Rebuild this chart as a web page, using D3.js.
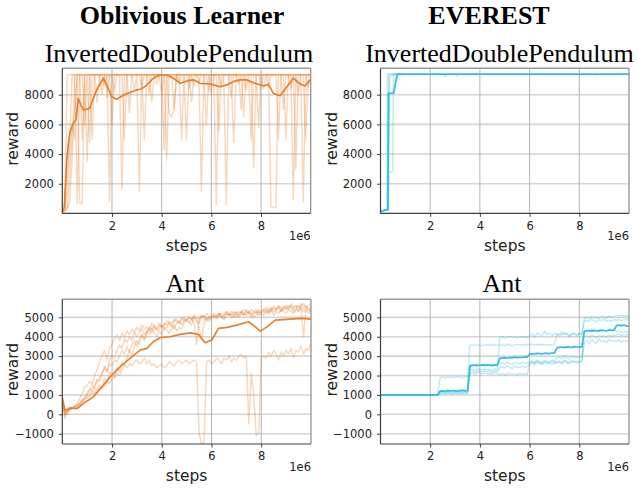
<!DOCTYPE html>
<html><head><meta charset="utf-8">
<script src="https://cdn.jsdelivr.net/npm/d3@7"></script>
<style>body{margin:0;background:#fff}svg{display:block}</style>
</head><body>
<svg id="c" width="637" height="489"></svg>
<script>
// ---------- DATA ----------
const columnTitles = ["Oblivious Learner", "EVEREST"];
const envTitles = ["InvertedDoublePendulum", "Ant"];
const xTickValues = [2, 4, 6, 8];            // in units of 1e6 steps
const idpYTicks = [2000, 4000, 6000, 8000];
const antYTicks = [-1000, 0, 1000, 2000, 3000, 4000, 5000];
const stepGrid = d3.range(101).map(i => i / 10); // sample steps, millions

// Oblivious Learner / InvertedDoublePendulum runs (on stepGrid)
const oblIdpRun1 = [100,300,9350,9360,9350,9340,9350,9360,9350,9350,
 9350,9360,5000,9350,9350,9340,9350,8600,9350,9350,
 9360,9350,9350,9350,9340,5000,9350,9350,9360,9350,
 9350,9350,8500,9350,9350,9360,9350,9350,9350,9340,
 8000,9350,9350,9360,9350,9350,9350,8800,9350,9350,
 5000,9350,9350,9360,9350,9350,9350,9340,9350,8200,
 9350,9350,9360,5500,9350,9350,9350,9350,9340,9350,
 9350,8700,9350,6500,9350,9360,9350,9350,9350,9350,
 9350,9340,9350,9350,400,420,400,9350,9350,9360,
 9350,9350,8400,9350,9350,9350,9340,9350,9350,9350,9350];
const oblIdpRun2 = [100,500,3000,5200,9350,9350,700,9300,9350,9350,
 9350,9350,9340,9350,7500,9350,9350,9360,9350,9350,
 6000,9350,9350,9350,9350,9340,9350,9350,9350,8300,
 9350,1500,9350,9350,9360,9350,9350,9350,9350,9350,
 9350,9340,9350,6800,6500,7000,9350,9350,9350,9360,
 9350,9350,9350,8600,9350,9350,9350,9350,6000,9350,
 9350,9340,9350,9350,9350,9350,600,9350,9350,9350,
 9360,9350,9350,9350,8300,9350,5000,9350,9350,9350,
 9350,9350,9340,9350,9350,9350,9350,5000,9350,9350,
 9350,9350,9350,9360,3000,9350,9350,9350,9350,8500,9350];
const oblIdpRun3 = [100,200,1500,4500,6000,5000,9350,700,650,9350,
 9350,9350,9350,9360,9350,9350,8000,9350,9350,800,
 9350,9350,9350,9340,9350,9350,9350,9350,9350,9350,
 9360,9350,9350,5000,9350,9350,9350,9340,8700,9350,
 9350,9350,9350,9350,9350,7000,9350,9360,9350,9350,
 9350,8400,9350,9350,9350,9340,1500,9350,9350,9350,
 9350,9350,9350,9350,8500,9350,9350,9360,7800,9350,
 9350,9350,9350,9350,9350,9340,9350,3100,9350,9350,
 9350,8400,9350,9350,9350,9360,9350,9350,9350,7000,
 9350,9350,9350,9350,9350,8000,9350,9350,9340,9350,9350];
const oblIdpRun4 = [100,200,400,2500,5500,7000,9350,9350,5000,9350,
 3500,9350,9350,9350,9350,9350,9360,9350,9350,9350,
 9350,8200,9350,9350,9350,9350,9350,6800,9350,9350,
 9350,9350,9340,9350,9350,8000,9350,9350,9350,9350,
 9350,4300,9350,9350,9350,9360,9350,9350,5000,9350,
 9350,9350,9350,9350,9350,8800,9350,9350,9350,9350,
 8000,9350,9350,9340,9350,9350,9350,9350,9350,4800,
 9350,9350,9350,9350,9360,9350,9350,9350,9350,5800,
 9350,9350,9350,8500,9350,9350,9350,9350,9350,9350,
 5000,9350,9350,9350,9350,9350,9350,800,9350,9350,9350];
const oblIdpRun5 = [100,150,300,800,3800,9350,9350,9350,9350,6000,
 9350,4800,9350,9350,9350,9350,9350,9350,7800,9350,
 9350,9350,9350,9350,1600,9350,9350,9350,9350,9350,
 9350,9350,9350,9350,9350,9350,7500,9350,9350,9350,
 9350,9350,3600,9350,9350,9350,9350,9350,9350,9350,
 9350,9350,7500,9350,9350,9350,9350,9350,9350,9350,
 9350,9350,600,9350,9350,9350,9350,9350,9350,9350,
 9350,9350,7000,9350,9350,9350,9350,9350,9350,9350,
 8300,9350,9350,9350,9350,9350,9350,9350,9350,9350,
 9350,9350,9350,900,9350,9350,9350,9350,5000,9350,9350];
const oblIdpMeanSteps = [0,0.08,0.18,0.25,0.31,0.44,0.55,0.64,0.75,0.85,1.1,1.38,1.65,1.75,1.99,2.19,2.46,2.72,2.99,3.2,3.4,3.66,3.93,4.2,4.47,4.74,5.07,5.3,5.54,5.94,6.35,6.62,6.88,7.15,7.42,7.69,8.1,8.3,8.5,8.77,9.04,9.3,9.57,9.77,10];
const oblIdpMean = [100,400,3600,4800,5500,6070,6300,7760,7300,6970,7080,8320,9110,8800,7870,7690,7970,8150,8320,8400,8650,9110,9330,9330,9110,8770,8950,9000,8770,8730,8540,8660,8880,9000,9000,8810,8590,8700,8090,7930,8540,9110,8730,8590,9040];

// EVEREST / InvertedDoublePendulum (irregular samples)
const evIdpRun1Steps = [0,0.25,0.28,2.5,2.6,2.7,10];
const evIdpRun1 = [130,250,9380,9380,9200,9380,9380];
const evIdpRun2Steps = [0,0.3,0.33,0.49,0.52,10];
const evIdpRun2 = [130,260,2800,2800,9380,9380];
const evIdpRun3Steps = [0,0.3,0.33,0.55,0.62,10];
const evIdpRun3 = [150,250,8100,8100,9380,9380];
const evIdpRun4Steps = [0,0.3,0.34,3.0,3.1,3.2,10];
const evIdpRun4 = [100,280,9380,9380,9250,9380,9380];
const evIdpRun5Steps = [0,0.32,0.36,0.5,0.55,8.6,8.7,8.8,10];
const evIdpRun5 = [140,260,9200,9300,9380,9380,9300,9380,9380];
const evIdpMeanSteps = [0,0.1,0.25,0.3,0.32,0.52,0.68,1,2,3,4,5,6,7,8,9,10];
const evIdpMean = [130,180,250,260,8100,8100,9370,9380,9380,9380,9380,9380,9380,9380,9380,9380,9380];

// Oblivious Learner / Ant runs (on stepGrid)
const oblAntRun1 = [800,0,150,300,350,450,550,800,1100,1400,1500,
 1700,1550,2000,2300,2700,3000,3300,2800,3400,3600,
 3900,4100,3800,4200,4000,4300,4100,4400,4200,4500,
 4300,4600,4400,4500,4300,4700,4500,4400,4600,4500,
 4700,4600,4800,4700,4900,4800,4700,5000,4800,4900,
 5000,4900,5100,5000,4900,5100,5000,5200,5000,5100,
 5200,5100,5000,5200,5100,5300,5200,5100,5300,5200,
 5300,5200,5400,5300,5200,5400,5300,5200,5400,5300,
 5400,5500,5300,5400,5500,5400,5600,5500,5400,5600,
 5500,5600,5400,5600,5500,5700,5500,5600,5400,5500];
const oblAntRun2 = [700,-200,100,250,300,350,450,500,600,800,1000,
 1200,1500,1300,1700,1900,2100,2400,2200,2600,2500,
 2800,2700,3000,3300,3100,3500,3200,3600,3800,3500,
 3900,4100,3800,4200,4400,4200,4500,4300,4400,4600,
 4400,4500,4700,4600,4400,4700,4800,4600,4900,4800,
 4700,4900,5000,4800,4500,3800,4700,5000,4900,5100,
 5000,5100,5200,5000,5100,5300,5100,5200,5000,5200,
 5100,5300,5200,5100,5300,5200,5000,5100,5300,5200,
 5300,5400,5200,5500,5300,5400,5600,5300,5500,5400,
 5600,5500,5300,5400,5600,5500,4000,5500,5400,5300];
const oblAntRun3 = [600,100,200,250,300,400,450,600,750,800,900,
 1000,1200,1100,1300,1500,1400,1900,1600,2200,2000,
 1900,2400,2200,2700,2500,2900,3300,3000,3500,3800,
 3600,4100,3900,4300,4100,4400,4200,4000,4300,4100,
 4500,4300,4200,4400,4600,4300,4500,4400,4700,4900,
 4800,4600,5000,4900,4700,5000,5100,4900,4800,5000,
 5100,4900,5200,5000,4900,5100,5200,5000,5100,5300,
 5000,5200,5100,5300,5200,5000,5200,5300,5100,5200,
 5100,5300,5200,5400,5100,5300,5200,5400,5300,5200,
 5400,5300,5200,5400,5300,5500,5300,5400,5200,5400];
const oblAntRun4 = [900,-100,200,350,300,400,500,550,700,650,800,
 900,1100,1000,1200,1400,1300,1500,1700,1600,1800,
 1900,2100,2000,2300,2500,2400,2600,2500,2700,2800,
 2600,2700,2900,2600,2800,2500,2600,2400,2500,2600,
 2400,2500,2700,2600,2500,2700,2800,2600,2700,2800,
 2600,2700,2800,2700,-1000,-1500,-1450,2700,2800,2600,
 2700,2900,2800,2600,2900,2800,3000,2700,2900,2800,
 3000,3100,2900,3000,-500,2100,1000,-1100,-950,2900,
 3000,2900,3200,3000,3300,3100,2800,3200,3000,3300,
 3100,3400,2900,3300,3200,3500,3100,3400,3300,3700];
const oblAntRun5 = [500,100,0,200,300,300,400,500,700,900,1100,
 1300,1200,1500,1800,1700,2100,2500,2200,2800,3100,
 2900,3300,3600,3400,3900,3700,4000,3800,4200,4000,
 4200,4400,4100,4300,4500,4400,4600,4400,4700,4500,
 4600,4800,4700,4500,4800,4900,4700,4900,5000,4800,
 5000,4900,4700,3600,4900,5100,5000,4800,5000,4900,
 5100,5000,5200,5100,4900,5200,5100,5300,5200,5000,
 5200,5300,5100,5400,5300,5100,5300,5400,5200,5300,
 5400,5200,5500,5300,5600,5400,5500,5300,5600,5500,
 5400,5700,5500,5600,5300,5600,5700,5500,5600,5700];
const oblAntMeanSteps = [0,0.11,0.31,0.58,0.85,1.25,1.65,1.92,2.32,2.72,3.13,3.4,3.66,3.93,4.33,4.74,5.15,5.48,5.74,6.01,6.28,6.62,7.02,7.49,7.76,7.96,8.23,8.56,9.03,9.57,10];
const oblAntMean = [850,200,330,290,550,900,1500,1930,2450,2880,3310,3400,3740,3950,4000,4120,4200,4120,3690,3830,4430,4480,4600,4770,4510,4290,4510,4860,4900,4950,4910];

// EVEREST / Ant runs (on stepGrid)
const evAntRun1 = [1000,1000,1000,1000,1000,1000,1000,1000,1000,1000,1000,1000,1000,1000,1000,1000,1000,1000,1000,1000,1000,1000,1000,1000,
 1900,1920,1880,1950,1900,1930,1890,1960,1920,1900,1940,1910,
 3550,3580,3540,3600,3560,3530,3590,3570,3550,3600,3560,3580,
 3560,3590,3550,3600,3570,3540,3580,3610,3560,3590,3570,3600,
 3580,3620,3570,3600,3560,3610,3590,3550,3600,3580,3620,
 4100,4150,4080,4200,4120,4050,4180,4130,4090,4160,4110,
 4950,5000,4920,5050,4980,5010,4940,5060,5000,4970,5080,5020,5050,
 5100,5080,5120,5060,5110,5090];
const evAntRun2 = [1000,1000,1000,1000,1000,1000,1000,1000,1000,1000,1000,1000,1000,1000,1000,1000,1000,1000,1000,1000,1000,1000,1000,1000,
 1150,1180,1130,1200,1160,1140,1190,1170,1150,1200,1160,1180,
 2300,2330,2280,2350,2310,2290,2340,2300,2320,2280,2350,2310,
 3950,4000,3930,3980,4020,3960,3990,3940,4010,3970,4000,3950,
 4050,4150,4000,4200,4100,4050,4300,4120,4180,4060,4150,
 4150,4050,4250,4100,4180,4000,4130,4200,4080,4170,4100,
 4800,4850,4780,4900,4820,4760,4870,4830,4900,4800,4850,4790,4880,
 4850,4900,4820,4880,4860,4900];
const evAntRun3 = [1000,1000,1000,1000,1000,1000,1000,1000,1000,1000,1000,1000,1000,1000,1000,1000,1000,1000,1000,1000,1000,1000,1000,1000,
 1050,1080,1040,1100,1060,1030,1090,1070,1050,1100,1060,1080,
 2550,2580,2530,2600,2560,2540,2590,2570,2550,2600,2560,2580,
 2600,2650,2580,2700,2620,2560,2680,2640,2600,2700,2630,2660,
 2700,2750,2680,2800,2720,2660,2780,2740,2700,2800,2730,
 2900,2950,2870,3000,2920,2860,2980,2940,2900,2960,2930,
 4300,4350,4250,4400,4320,4260,4380,4300,4340,4280,4400,4330,4360,
 4250,4300,4200,4280,4230,4260];
const evAntRun4 = [1000,1000,1000,1000,1000,1000,1000,1000,1000,1000,1000,1000,1000,1000,1000,1000,1000,1000,1000,1000,1000,1000,1000,1000,
 1100,1120,1090,1140,1110,1080,1130,1100,1120,1090,1140,1110,
 2100,2130,2080,2150,2110,2090,2140,2100,2120,2080,2150,2110,
 2050,2100,2030,2080,2120,2060,2090,2040,2110,2070,2100,2050,
 2600,2650,2550,2700,2620,2580,2680,2600,2650,2570,2640,
 2700,2750,2650,2800,2720,2660,2780,2700,2740,2680,2760,
 4000,4050,3950,4100,4020,3960,4080,4010,4060,3980,4100,4030,4070,
 4100,4150,4050,4120,4080,4100];
const evAntRun5 = [1000,1000,1000,1000,1000,1000,1000,1000,1000,1000,1000,1000,1000,1000,1000,1000,1000,1000,1000,1000,1000,1000,1000,1000,
 1200,1220,1180,1250,1210,1190,1240,1200,1230,1180,1250,1210,
 2200,2240,2180,2250,2210,2190,2240,2200,2230,2180,2260,2210,
 2400,2450,2380,2500,2420,2360,2480,2440,2400,2500,2430,2460,
 2650,2700,2600,2750,2670,2610,2730,2690,2650,2750,2680,
 2650,2700,2600,2750,2670,2610,2730,2690,2650,2720,2680,
 3700,3800,3650,3850,3720,3680,3900,3750,3800,3700,3850,3760,3800,
 3750,3850,3700,3800,3780,3850];
const evAntMean = [1000,1000,1000,1000,1000,1000,1000,1000,1000,1000,1000,1000,1000,1000,1000,1000,1000,1000,1000,1000,1000,1000,1000,1000,
 1200,1210,1190,1220,1200,1230,1210,1200,1220,1240,1210,1230,
 2500,2520,2540,2510,2530,2550,2520,2540,2530,2510,2550,2530,
 2880,2900,2920,2890,2930,2910,2950,2920,2940,2930,2960,2950,
 3100,3120,3110,3140,3130,3120,3150,3140,3130,3160,3150,
 3430,3450,3470,3440,3480,3460,3450,3490,3470,3460,3480,
 4280,4300,4320,4290,4330,4310,4300,4340,4320,4310,4350,4330,4340,
 4580,4600,4570,4590,4560,4550];

// ---------- DRAW ----------
const ORANGE = "#e6812f", CYAN = "#35bddf";
const SANS = "'DejaVu Sans', sans-serif", SERIF = "'Liberation Serif', 'Times New Roman', serif";
const svg = d3.select("#c");

const zip = (xs, ys) => xs.map((x, i) => [x, ys[i]]);

const panels = [
  { id: "tl", left: 62.3, right: 310.7, top: 68.3, bottom: 213.4, ydom: [0, 9780], yticks: idpYTicks, color: ORANGE,
    runs: [oblIdpRun1, oblIdpRun2, oblIdpRun3, oblIdpRun4, oblIdpRun5].map(r => zip(stepGrid, r)),
    mean: zip(oblIdpMeanSteps, oblIdpMean), title: envTitles[0], titleX: 179, titleY: 61.5, labelDy: -2 },
  { id: "tr", left: 380.5, right: 629, top: 68.3, bottom: 213.4, ydom: [0, 9780], yticks: idpYTicks, color: CYAN,
    runs: [zip(evIdpRun1Steps, evIdpRun1), zip(evIdpRun2Steps, evIdpRun2), zip(evIdpRun3Steps, evIdpRun3),
           zip(evIdpRun4Steps, evIdpRun4), zip(evIdpRun5Steps, evIdpRun5)],
    mean: zip(evIdpMeanSteps, evIdpMean), title: envTitles[0], titleX: 499.5, titleY: 61.5, labelDy: -2 },
  { id: "bl", left: 62.3, right: 311, top: 299.3, bottom: 444, ydom: [-1530, 5930], yticks: antYTicks, color: ORANGE,
    runs: [oblAntRun1, oblAntRun2, oblAntRun3, oblAntRun4, oblAntRun5].map(r => zip(stepGrid, r)),
    mean: zip(oblAntMeanSteps, oblAntMean), title: envTitles[1], titleX: 185, titleY: 292, labelDy: -2 },
  { id: "br", left: 380.5, right: 629, top: 299.3, bottom: 444, ydom: [-1530, 5930], yticks: antYTicks, color: CYAN,
    runs: [evAntRun1, evAntRun2, evAntRun3, evAntRun4, evAntRun5].map(r => zip(stepGrid, r)),
    mean: zip(stepGrid, evAntMean), title: envTitles[1], titleX: 502, titleY: 292, labelDy: -2 }
];

const defs = svg.append("defs");

panels.forEach(p => {
  const x = d3.scaleLinear().domain([0, 10]).range([p.left, p.right]);
  const y = d3.scaleLinear().domain(p.ydom).range([p.bottom, p.top]);
  const g = svg.append("g");

  // grid
  g.selectAll(".hg").data(p.yticks).join("line")
    .attr("x1", p.left).attr("x2", p.right)
    .attr("y1", d => y(d)).attr("y2", d => y(d))
    .attr("stroke", "#d4d4d4").attr("stroke-width", 1.6);
  g.selectAll(".vg").data(xTickValues).join("line")
    .attr("x1", d => x(d)).attr("x2", d => x(d))
    .attr("y1", p.top).attr("y2", p.bottom)
    .attr("stroke", "#b4b4b4").attr("stroke-width", 1);

  defs.append("clipPath").attr("id", "clip-" + p.id).append("rect")
    .attr("x", p.left).attr("y", p.top).attr("width", p.right - p.left).attr("height", p.bottom - p.top);

  const line = d3.line().x(d => x(d[0])).y(d => y(d[1]));
  const lg = g.append("g").attr("clip-path", `url(#clip-${p.id})`);
  lg.selectAll(".run").data(p.runs).join("path")
    .attr("d", line).attr("fill", "none")
    .attr("stroke", p.color).attr("stroke-opacity", 0.3).attr("stroke-width", 1.5)
    .attr("stroke-linejoin", "round");
  lg.append("path").datum(p.mean).attr("d", line).attr("fill", "none")
    .attr("stroke", p.color).attr("stroke-width", 1.7).attr("stroke-linejoin", "round");

  // spines
  g.append("line").attr("x1", p.left).attr("x2", p.right).attr("y1", p.top).attr("y2", p.top).attr("stroke", "#9a9a9a").attr("stroke-width", 1.5);
  g.append("line").attr("x1", p.right).attr("x2", p.right).attr("y1", p.top).attr("y2", p.bottom).attr("stroke", "#8a8a8a").attr("stroke-width", 1.2);
  g.append("line").attr("x1", p.left).attr("x2", p.left).attr("y1", p.top).attr("y2", p.bottom).attr("stroke", "#404040").attr("stroke-width", 1.2);
  g.append("line").attr("x1", p.left).attr("x2", p.right).attr("y1", p.bottom).attr("y2", p.bottom).attr("stroke", "#404040").attr("stroke-width", 1.2);

  // axes
  const ax = g.append("g").attr("transform", `translate(0,${p.bottom})`)
    .call(d3.axisBottom(x).tickValues(xTickValues).tickSize(3.5).tickPadding(4.5).tickFormat(d3.format("d")));
  const ay = g.append("g").attr("transform", `translate(${p.left},0)`)
    .call(d3.axisLeft(y).tickValues(p.yticks).tickSize(3.5).tickPadding(5).tickFormat(d3.format("d")));
  [ax, ay].forEach(a => {
    a.select(".domain").remove();
    a.selectAll(".tick line").attr("stroke", "#404040");
    a.selectAll("text").attr("font-family", SANS).attr("font-size", "11.5px").attr("fill", "#222");
  });

  // offset text
  g.append("text").attr("x", p.right).attr("y", p.bottom + 26.5).attr("text-anchor", "end")
    .attr("font-family", SANS).attr("font-size", "11.5px").attr("fill", "#222").text("1e6");
  // x label
  g.append("text").attr("x", (p.left + p.right) / 2).attr("y", p.bottom + 37.3).attr("text-anchor", "middle")
    .attr("font-family", SANS).attr("font-size", "15.5px").attr("fill", "#222").text("steps");
  // y label
  g.append("text").attr("transform", `translate(${p.left - 44},${(p.top + p.bottom) / 2 + p.labelDy}) rotate(-90)`)
    .attr("text-anchor", "middle").attr("font-family", SANS).attr("font-size", "15.5px").attr("fill", "#222").text("reward");
  // env title
  g.append("text").attr("x", p.titleX).attr("y", p.titleY).attr("text-anchor", "middle")
    .attr("font-family", SERIF).attr("font-size", "26px").attr("fill", "#000").text(p.title);
});

// column titles
svg.append("text").attr("x", 182).attr("y", 24).attr("text-anchor", "middle")
  .attr("font-family", SERIF).attr("font-weight", "bold").attr("font-size", "26px").text(columnTitles[0]);
svg.append("text").attr("x", 489).attr("y", 24).attr("text-anchor", "middle")
  .attr("font-family", SERIF).attr("font-weight", "bold").attr("font-size", "26px").text(columnTitles[1]);
</script>
</body></html>
